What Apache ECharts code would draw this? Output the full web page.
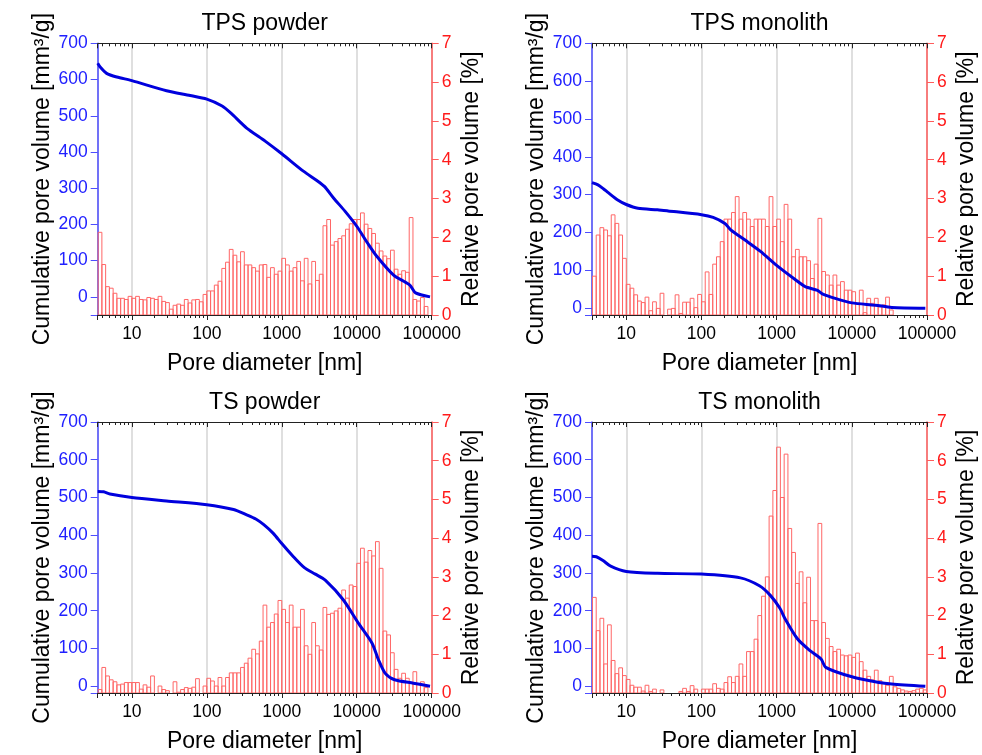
<!DOCTYPE html>
<html>
<head>
<meta charset="UTF-8">
<title>Pore size distribution</title>
<script src="https://cdn.jsdelivr.net/npm/echarts@6.0.0/dist/echarts.min.js"></script>
<style>
  html, body { margin: 0; padding: 0; background: #fff; }
  #main { width: 982px; height: 755px; }
</style>
</head>
<body>
<div id="main"></div>
<script>
// histogram bin centres [nm], 20 bins per decade
var poreDiameter = [
  3.758, 4.217, 4.732, 5.309, 5.957, 6.683, 7.499, 8.414, 9.441,
  10.59, 11.89, 13.34, 14.96, 16.79, 18.84, 21.13, 23.71, 26.61, 29.85,
  33.50, 37.58, 42.17, 47.32, 53.09, 59.57, 66.83, 74.99, 84.14, 94.41,
  105.9, 118.9, 133.4, 149.6, 167.9, 188.4, 211.3, 237.1, 266.1, 298.5,
  335.0, 375.8, 421.7, 473.2, 530.9, 595.7, 668.3, 749.9, 841.4, 944.1,
  1059, 1189, 1334, 1496, 1679, 1884, 2113, 2371, 2661, 2985,
  3350, 3758, 4217, 4732, 5309, 5957, 6683, 7499, 8414, 9441,
  10590, 11890, 13340, 14960, 16790, 18840, 21130, 23710, 26610, 29850,
  33500, 37580, 42170, 47320, 53090, 59570, 66830, 74990, 84140, 94410
];

// relative pore volume [%] per bin
var relTPSPowder = [
  2.13, 1.30, 0.73, 0.69, 0.56, 0.43, 0.43, 0.40, 0.48,
  0.43, 0.48, 0.40, 0.39, 0.45, 0.43, 0.40, 0.48, 0.35, 0.32, 0.15, 0.25, 0.28, 0.25, 0.40, 0.31, 0.39, 0.40, 0.34, 0.53,
  0.62, 0.62, 0.77, 0.87, 1.20, 1.36, 1.69, 1.54, 1.37, 1.63, 1.29, 1.29, 1.22, 1.13, 1.29, 1.30, 0.97, 1.22, 1.05, 1.13,
  1.46, 1.29, 1.13, 1.22, 1.38, 0.88, 1.46, 0.80, 1.38, 0.89, 1.05, 2.30, 2.46, 1.80, 1.89, 1.97, 2.04, 2.21, 2.35, 2.46,
  2.46, 2.63, 2.34, 2.23, 2.10, 1.85, 1.65, 1.52, 1.45, 1.67, 1.18, 1.05, 1.14, 1.10, 2.51, 0.40, 0.36, 0.45, 0.22, 0
];
var relTPSMonolith = [
  1.00, 2.06, 2.25, 2.19, 2.04, 2.58, 2.36, 2.06, 1.46,
  0.79, 0.69, 0.52, 0.36, 0.32, 0.46, 0.11, 0.34, 0.17, 0.56, 0, 0.15, 0.17, 0.52, 0.04, 0.33, 0.33, 0.43, 0.19, 0.53,
  0.34, 1.11, 0.53, 1.31, 1.50, 1.89, 2.47, 2.47, 2.64, 3.05, 2.47, 2.64, 2.47, 2.28, 2.47, 2.47, 2.47, 2.28, 3.05, 2.28,
  2.47, 1.89, 2.85, 2.47, 1.50, 1.69, 1.50, 1.50, 1.40, 0.94, 1.31, 2.49, 1.12, 1.03, 0.77, 1.03, 0.77, 0.86, 0.64, 0.64,
  0.60, 0.30, 0.64, 0.06, 0.43, 0.30, 0.43, 0.21, 0.26, 0.46, 0.13, 0, 0, 0, 0, 0, 0, 0, 0, 0
];
var relTSPowder = [
  0.09, 0.66, 0.44, 0.34, 0.29, 0.21, 0.23, 0.27, 0.27,
  0.27, 0.27, 0.10, 0.21, 0.15, 0.44, 0, 0.18, 0.09, 0.06, 0, 0.29, 0.02, 0.09, 0.14, 0.12, 0.15, 0.37, 0, 0.18,
  0.38, 0.31, 0.18, 0.40, 0.18, 0.40, 0.52, 0.52, 0.52, 0.66, 0.77, 0.90, 1.13, 1.01, 1.34, 2.27, 1.70, 1.82, 2.04, 2.39,
  2.16, 1.82, 2.27, 1.70, 1.70, 2.16, 1.22, 1.00, 1.82, 1.22, 1.11, 2.21, 2.03, 2.06, 2.12, 2.19, 2.66, 2.45, 2.79, 2.75,
  3.35, 3.74, 3.38, 3.68, 3.54, 3.91, 3.22, 1.60, 1.50, 1.04, 0.61, 0.38, 0.51, 0.38, 0.27, 0.55, 0.23, 0.29, 0.14, 0
];
var relTSMonolith = [
  2.47, 1.61, 1.93, 0.75, 1.76, 0.84, 0.50, 0.65, 0.45,
  0.35, 0.20, 0.15, 0.15, 0.05, 0.20, 0.04, 0.10, 0, 0.08, 0, 0, 0, 0, 0.04, 0.12, 0.04, 0.19, 0.10, 0,
  0.10, 0.10, 0.10, 0.24, 0.12, 0.10, 0.27, 0.42, 0.27, 0.43, 0.75, 0.43, 1.07, 1.07, 1.39, 2.00, 2.50, 3.00, 4.57, 5.23,
  6.35, 5.05, 6.17, 4.25, 3.63, 2.83, 3.13, 2.33, 2.99, 1.87, 1.87, 4.38, 1.82, 1.41, 1.20, 1.07, 1.13, 0.98, 0.96, 0.98,
  0.92, 1.03, 0.81, 0.59, 0.43, 0.34, 0.59, 0.32, 0.27, 0.20, 0.43, 0.16, 0.12, 0.08, 0.05, 0.04, 0.06, 0.10, 0.12, 0.08
];

// cumulative pore volume [mm3/g] vs pore diameter [nm]
var cumTPSPowder = [
  [3.5, 645], [3.8, 634], [4.6, 617], [6.3, 607], [10, 597], [29, 569], [60, 556], [100, 546], [160, 527],
  [210, 507], [340, 466], [600, 430], [1000, 395], [1940, 347], [2900, 322], [3700, 305], [4900, 273],
  [7000, 236], [10000, 195], [14000, 148], [18500, 112], [31000, 60], [45000, 40], [52000, 31],
  [61000, 11], [95000, 0]
];
var cumTPSMonolith = [
  [3.5, 332], [4.2, 326], [5.0, 315], [5.7, 306], [7.7, 286], [10, 274], [14.3, 264], [26, 260],
  [36, 257], [100, 247], [143, 240], [205, 224], [245, 207], [380, 180], [610, 150], [1000, 113],
  [1780, 75], [2400, 57], [3500, 47], [4050, 38], [6000, 26], [10000, 14], [20500, 8], [34000, 2], [95000, 0]
];
var cumTSPowder = [
  [3.5, 516], [4.2, 515], [5.1, 509], [10, 500], [29, 491], [100, 481], [227, 468], [340, 454],
  [450, 443], [575, 428], [770, 405], [1000, 378], [1400, 345], [2000, 314], [2800, 297], [3800, 281],
  [6600, 229], [10500, 167], [16000, 114], [19500, 70], [24000, 34], [32000, 17], [57000, 8], [95000, 0]
];
var cumTSMonolith = [
  [3.5, 344], [4.0, 343], [4.9, 333], [6.2, 318], [10, 304], [26, 299], [100, 297], [330, 287],
  [590, 266], [830, 240], [1100, 207], [1300, 178], [1900, 125], [2750, 95], [3900, 72],
  [4500, 50], [10000, 25], [23000, 10], [34000, 6], [95000, 0]
];

var panelTitle = ['TPS powder', 'TPS monolith', 'TS powder', 'TS monolith'];
var panelRel = [relTPSPowder, relTPSMonolith, relTSPowder, relTSMonolith];
var panelCum = [cumTPSPowder, cumTPSMonolith, cumTSPowder, cumTSMonolith];
var leftMin = [-50, -18, -18, -18];
var xTickLabels = ['10', '100', '1000', '10000', '100000'];

var FONT = '"Liberation Sans", Arial, Helvetica, sans-serif';
var BLUE_AX = '#4d4dff';
var RED_AX = '#ff5c5c';
var BIN_HALF = Math.pow(10, 0.025);

var boxes = [
  { left: 97.7, top: 43.3, width: 334, height: 271.7 },
  { left: 592, top: 43.3, width: 335, height: 271.7 },
  { left: 97.7, top: 422, width: 334, height: 271 },
  { left: 592, top: 422, width: 335, height: 271 }
];

function renderBin(params, api) {
  var d = api.value(0), v = api.value(1);
  if (!v) return null;
  var p0 = api.coord([d / BIN_HALF, v]);
  var p1 = api.coord([d * BIN_HALF, 0]);
  return {
    type: 'rect',
    shape: { x: p0[0], y: p0[1], width: p1[0] - p0[0], height: p1[1] - p0[1] },
    style: { fill: 'rgba(255,255,255,0)', stroke: '#ff6666', lineWidth: 1 }
  };
}

function xLabel(v) {
  var s = String(Math.round(v));
  return (Math.abs(v - Math.round(v)) < 1e-6 && xTickLabels.indexOf(s) >= 0) ? s : '';
}

var nameStyle = { fontSize: 23, color: '#000', fontFamily: FONT };

var option = {
  animation: false,
  textStyle: { fontFamily: FONT },
  title: [], grid: [], xAxis: [], yAxis: [], series: []
};

boxes.forEach(function (b, i) {
  option.grid.push({ left: b.left, top: b.top, width: b.width, height: b.height });
  option.title.push({
    text: panelTitle[i], left: b.left + b.width / 2, top: b.top - 31, textAlign: 'center', padding: 0,
    textStyle: { fontSize: 23, fontWeight: 'normal', color: '#000', fontFamily: FONT }
  });
  // bottom log axis
  option.xAxis.push({
    gridIndex: i, type: 'log', logBase: 10, min: 3.5, max: 100000, position: 'bottom',
    name: 'Pore diameter [nm]', nameLocation: 'middle', nameGap: 37, nameTextStyle: nameStyle,
    axisLine: { show: true, onZero: false, lineStyle: { color: '#222', width: 1 } },
    axisTick: { show: true, length: 5, lineStyle: { color: '#222' } },
    minorTick: { show: true, splitNumber: 9, length: 3, lineStyle: { color: '#222' } },
    axisLabel: { color: '#000', fontSize: 17.5, margin: 10, formatter: xLabel, showMinLabel: false },
    splitLine: { show: true, lineStyle: { color: '#d4d4d4', width: 1.5 } }
  });
  // mirrored top axis
  option.xAxis.push({
    gridIndex: i, type: 'log', logBase: 10, min: 3.5, max: 100000, position: 'top',
    axisLine: { show: true, onZero: false, lineStyle: { color: '#222', width: 1 } },
    axisTick: { show: true, inside: true, length: 5, lineStyle: { color: '#222' } },
    minorTick: { show: true, splitNumber: 9, length: 3, lineStyle: { color: '#222' } },
    axisLabel: { show: false },
    splitLine: { show: false }
  });
  option.yAxis.push({
    gridIndex: i, type: 'value', min: leftMin[i], max: 700, splitNumber: 7, minInterval: 100, maxInterval: 100,
    position: 'left', name: 'Cumulative pore volume [mm³/g]', nameLocation: 'middle', nameRotate: 90,
    nameGap: 44, nameTextStyle: nameStyle,
    axisLine: { show: true, onZero: false, lineStyle: { color: BLUE_AX, width: 1.5 } },
    axisTick: { show: true, length: 7, lineStyle: { color: BLUE_AX } },
    axisLabel: { color: '#2020ff', fontSize: 17.5, margin: 10, formatter: function (v) { return v % 100 === 0 ? String(v) : ''; } },
    splitLine: { show: false }
  });
  option.yAxis.push({
    gridIndex: i, type: 'value', min: 0, max: 7, interval: 1, position: 'right',
    name: 'Relative pore volume [%]', nameLocation: 'middle', nameRotate: 90, nameGap: 28, nameTextStyle: nameStyle,
    axisLine: { show: true, onZero: false, lineStyle: { color: RED_AX, width: 1.5 } },
    axisTick: { show: true, length: 7, lineStyle: { color: RED_AX } },
    axisLabel: { color: '#ff1a1a', fontSize: 17.5, margin: 10 },
    splitLine: { show: false }
  });
  option.series.push({
    type: 'custom', xAxisIndex: 2 * i, yAxisIndex: 2 * i + 1, clip: true, z: 2,
    encode: { x: 0, y: 1 },
    data: poreDiameter.map(function (d, k) { return [d, panelRel[i][k]]; }),
    renderItem: renderBin
  });
  option.series.push({
    type: 'line', xAxisIndex: 2 * i, yAxisIndex: 2 * i, z: 3,
    data: panelCum[i], showSymbol: false, smooth: 0.25,
    lineStyle: { color: '#0000dd', width: 3 }
  });
});

var chart = echarts.init(document.getElementById('main'), null, { renderer: 'canvas' });
chart.setOption(option);
</script>
</body>
</html>
